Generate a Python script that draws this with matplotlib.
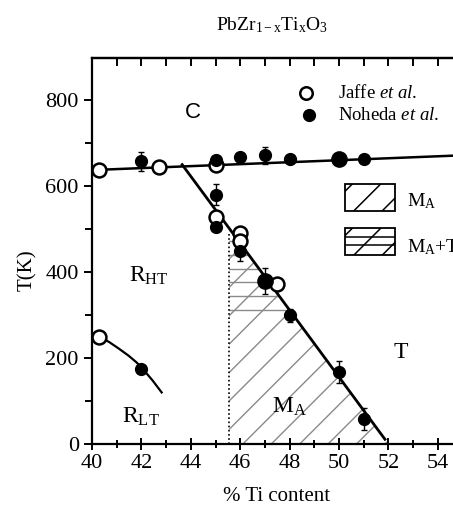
"""Phase diagram of PbZr(1-x)Ti(x)O3 around the morphotropic boundary."""

import numpy as np
import matplotlib
matplotlib.use("Agg")
import matplotlib.pyplot as plt
from matplotlib.patches import Polygon, Rectangle

plt.rcParams["font.family"] = ["Liberation Serif", "DejaVu Serif"]
plt.rcParams["mathtext.fontset"] = "custom"
plt.rcParams["mathtext.rm"] = "Liberation Serif"
plt.rcParams["mathtext.it"] = "Liberation Serif:italic"

# Jaffe et al. (open circles)
jaffe_x = [40.3, 42.7, 45.0, 45.0, 46.0, 46.0, 47.5, 40.3]
jaffe_t = [637, 645, 650, 527, 491, 472, 372, 250]

# Noheda et al. (filled circles)
noheda_x = [42.0, 45.0, 46.0, 47.0, 48.0, 50.0, 51.0, 45.0, 45.0, 46.0, 47.0, 48.0, 50.0, 51.0, 42.0]
noheda_t = [658, 660, 667, 672, 662, 662, 662, 580, 505, 450, 380, 300, 168, 58, 175]
noheda_err = [22, 8, 0, 20, 0, 0, 0, 25, 0, 25, 30, 15, 25, 25, 0]
noheda_size = [8.5, 8.5, 8.5, 8.5, 8.5, 11, 8.5, 8.5, 8.5, 8.5, 11, 8.5, 8.5, 8.5, 8.5]

# phase boundaries
cubic_x = [40.3, 56.0]
cubic_t = [638, 674]
tetra_x = [43.65, 51.86]
tetra_t = [650, 11]
rlt_x = [40.3, 40.7, 41.06, 41.47, 41.8, 42.05, 42.45, 42.82]
rlt_t = [250, 237, 223, 206, 190, 175, 148, 120]
ma_edge = 45.55
mat_levels = [312, 344, 376, 408, 440, 472]

fig = plt.figure(figsize=(4.53, 5.09), dpi=100)
ax = fig.add_axes([0.2031, 0.1277, 0.8724, 0.7583])
ax.set_xlim(40, 56)
ax.set_ylim(0, 898)

# 45 degree lines in pixel space: 24.7 px per % and 0.43 px per K
PX_X = 24.7
PX_T = 0.43
DIAG = PX_X / PX_T


def add_hatch(patch, x_range, t_range, step, levels=(), color="black", lw=1.0, offset=0.0):
    """Draw diagonal (and optional horizontal) lines clipped to a patch."""
    lo = x_range[0] - t_range[1] / DIAG
    hi = x_range[1] - t_range[0] / DIAG
    z = patch.get_zorder() + 0.1
    for x0 in np.arange(lo + offset, hi, step):
        xs = np.array([x0 + t_range[0] / DIAG, x0 + t_range[1] / DIAG])
        ln, = ax.plot(xs, DIAG * (xs - x0), color=color, lw=lw, zorder=z)
        ln.set_clip_path(patch)
    for t in levels:
        ln, = ax.plot(x_range, [t, t], color=color, lw=lw, zorder=z)
        ln.set_clip_path(patch)


tetra_slope = (tetra_t[1] - tetra_t[0]) / (tetra_x[1] - tetra_x[0])
x_bottom = tetra_x[0] - tetra_t[0] / tetra_slope
t_top = tetra_t[0] + tetra_slope * (ma_edge - tetra_x[0])

# hatched M_A / M_A+T region
region = Polygon([(ma_edge, 0), (x_bottom, 0), (ma_edge, t_top)], closed=True,
                 facecolor="none", edgecolor="none", zorder=1)
ax.add_patch(region)
add_hatch(region, (ma_edge, x_bottom), (0, t_top), 1.15, mat_levels,
          color="#8a8a8a", lw=1.0, offset=0.1)

ax.plot([ma_edge, ma_edge], [0, t_top - 10], color="black", lw=1.2, ls=(0, (1, 1.5)), zorder=2)

# boundaries
ax.plot(cubic_x, cubic_t, color="black", lw=1.8, zorder=3)
ax.plot(tetra_x, tetra_t, color="black", lw=2.0, zorder=3)
ax.plot(rlt_x, rlt_t, color="black", lw=1.6, zorder=3)

# data points
ax.errorbar(noheda_x, noheda_t, yerr=noheda_err, fmt="none", ecolor="black",
            elinewidth=1.0, capsize=2, zorder=4)
for x, t, s in zip(noheda_x, noheda_t, noheda_size):
    ax.plot(x, t, "o", color="black", ms=s, zorder=5)
ax.plot(jaffe_x, jaffe_t, "o", ms=10, mfc="white", mec="black", mew=1.8, ls="none", zorder=4)

# legend for symbols
ax.plot(48.66, 816, "o", ms=9, mfc="white", mec="black", mew=1.8)
ax.plot(48.8, 765, "o", ms=8.5, color="black")
ax.text(49.96, 816, r"Jaffe $\it{et\ al}$.", fontsize=13.5, va="center")
ax.text(49.96, 765, r"Noheda $\it{et\ al}$.", fontsize=13.5, va="center")

# legend for hatched regions
box_ma = Rectangle((50.24, 543), 2.03, 62, facecolor="white", edgecolor="black",
                   lw=1.3, zorder=3)
box_mat = Rectangle((50.24, 440), 2.03, 62, facecolor="white", edgecolor="black",
                    lw=1.3, zorder=3)
ax.add_patch(box_ma)
ax.add_patch(box_mat)
add_hatch(box_ma, (50.24, 52.27), (543, 605), 1.15, color="black", lw=1.1, offset=0.3)
add_hatch(box_mat, (50.24, 52.27), (440, 502), 1.15, [463, 482], color="black", lw=1.1,
          offset=0.3)
ax.text(52.74, 552, r"M$_\mathrm{A}$", fontsize=14)
ax.text(52.74, 447, r"M$_\mathrm{A}$+T", fontsize=14)

# phase labels
ax.text(43.77, 758, "C", fontsize=16, family="Liberation Sans")
ax.text(41.5, 377, r"R$_\mathrm{HT}$", fontsize=17)
ax.text(41.2, 49, r"R$_\mathrm{LT}$", fontsize=17)
ax.text(52.2, 200, "T", fontsize=17)
ax.text(47.3, 72, r"M$_\mathrm{A}$", fontsize=17)

# axes styling
for side in ["left", "bottom", "top"]:
    ax.spines[side].set_linewidth(1.6)
ax.spines["right"].set_visible(False)

ax.set_xticks(np.arange(40, 55, 2))
ax.set_xticks(np.arange(41, 56, 2), minor=True)
ax.set_yticks(np.arange(0, 801, 200))
ax.set_yticks(np.arange(100, 900, 200), minor=True)
ax.tick_params(axis="x", which="both", direction="inout", labelsize=16, width=1.4)
ax.tick_params(axis="x", which="major", length=8)
ax.tick_params(axis="x", which="minor", length=6)
ax.tick_params(axis="y", which="both", direction="out", labelsize=16, width=1.4)
ax.tick_params(axis="y", which="major", length=6)
ax.tick_params(axis="y", which="minor", length=5)

top = ax.secondary_xaxis("top")
top.set_xticks(np.arange(40, 55, 2))
top.set_xticks(np.arange(41, 56, 2), minor=True)
top.tick_params(which="both", direction="in", length=6, width=1.4, labeltop=False)
top.spines["top"].set_linewidth(1.6)

fig.text(0.06, 0.47, "T(K)", rotation=90, fontsize=15, ha="center", va="center")
fig.text(0.611, 0.025, "% Ti content", fontsize=15, ha="center", va="center")
fig.text(0.6, 0.95, r"PbZr$_\mathrm{1-x}$Ti$_\mathrm{x}$O$_\mathrm{3}$", fontsize=14,
         ha="center", va="center")

fig.savefig("out.png", dpi=100)
